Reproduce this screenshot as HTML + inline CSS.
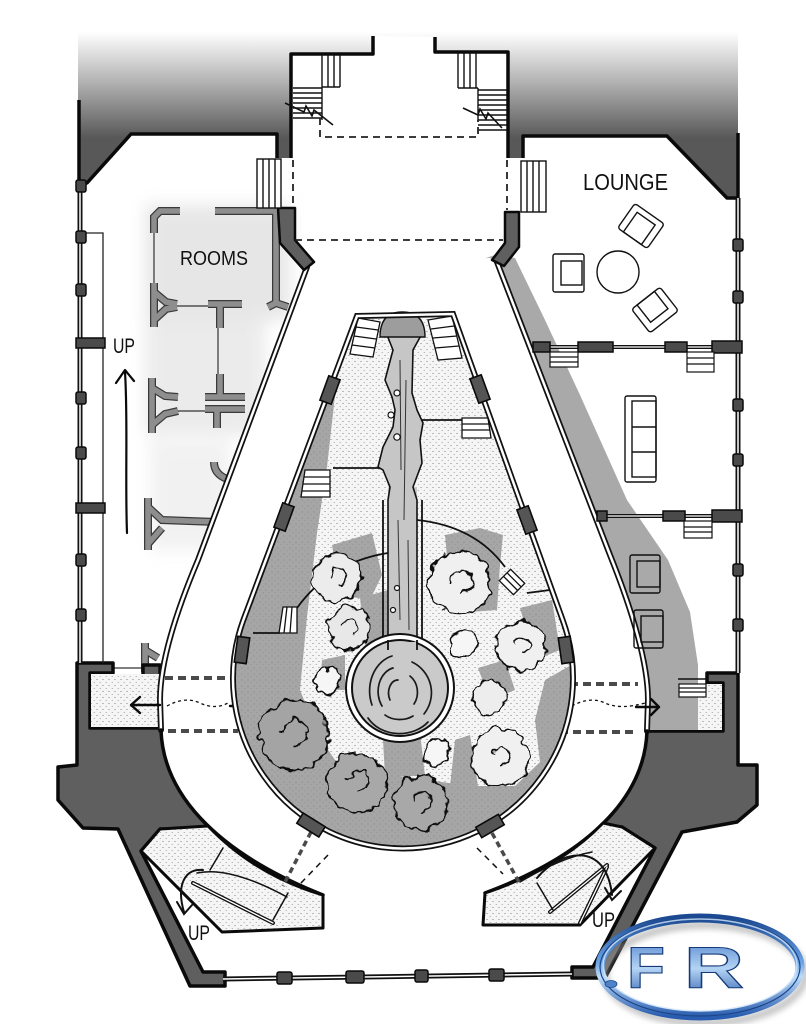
<!DOCTYPE html>
<html><head><meta charset="utf-8"><style>
html,body{margin:0;padding:0;background:#fff;}
svg{display:block;}
text{font-family:"Liberation Sans",sans-serif;}
</style></head><body>
<svg width="806" height="1024" viewBox="0 0 806 1024" xmlns="http://www.w3.org/2000/svg">
<defs>
 <linearGradient id="sky" gradientUnits="userSpaceOnUse" x1="0" y1="32" x2="0" y2="138">
  <stop offset="0" stop-color="#ffffff"/>
  <stop offset="0.45" stop-color="#b6b6b6"/>
  <stop offset="1" stop-color="#585858"/>
 </linearGradient>
 <pattern id="st" width="6" height="6" patternUnits="userSpaceOnUse">
  <rect width="6" height="6" fill="#f5f5f5"/>
  <circle cx="1" cy="1.5" r="0.55" fill="#6a6a6a"/>
  <circle cx="4.2" cy="4.5" r="0.5" fill="#8a8a8a"/>
 </pattern>
 <pattern id="gst" width="6" height="6" patternUnits="userSpaceOnUse">
  <rect width="6" height="6" fill="#a6a6a6"/>
  <circle cx="2" cy="2" r="0.55" fill="#7a7a7a"/>
  <circle cx="5" cy="4.6" r="0.5" fill="#8a8a8a"/>
 </pattern>
 <filter id="rough" x="-20%" y="-20%" width="140%" height="140%">
  <feTurbulence type="fractalNoise" baseFrequency="0.1" numOctaves="2" seed="7" result="n"/>
  <feDisplacementMap in="SourceGraphic" in2="n" scale="11" xChannelSelector="R" yChannelSelector="G"/>
 </filter>
 <filter id="blur" x="-30%" y="-30%" width="160%" height="160%"><feGaussianBlur stdDeviation="8"/></filter>
 <filter id="sblur" x="-30%" y="-30%" width="160%" height="160%"><feGaussianBlur stdDeviation="3"/></filter>
 <clipPath id="gclip"><path d="M357,316 L453,314 L563,621 A170,170 0 1 1 243,621 Z"/></clipPath>
 <linearGradient id="blu" x1="0" y1="0" x2="0" y2="1">
  <stop offset="0" stop-color="#1c4a92"/><stop offset="0.45" stop-color="#6aa3e6"/>
  <stop offset="0.6" stop-color="#bcdcfa"/><stop offset="1" stop-color="#2a5db0"/>
 </linearGradient>
 <linearGradient id="bluT" x1="0" y1="0" x2="0" y2="1">
  <stop offset="0" stop-color="#4f82cc"/><stop offset="0.5" stop-color="#b4d4f4"/><stop offset="1" stop-color="#2f5fae"/>
 </linearGradient>
 <path id="rw" d="M180,211 L160,211 L154,217 L154,233 M215,211 L276,211 L276,303 L268,307 M276,303 L288,307 M154,283 L154,327 M154,292 L166,302 L177,304 M154,320 L166,309 L177,307 M208,304 L242,304 M220,304 L220,328 M220,374 L220,398 M205,397 L245,397 M205,409 L245,409 M217,409 L217,428 M152,378 L152,433 M152,388 L165,396 L178,397 M152,425 L165,414 L178,411 M214,462 Q214,474 227,479 M148,498 L148,550 M148,507 L162,520 L217,522 M148,544 L162,528 M145,643 L145,668 L160,668 M145,650 L158,658"/>
</defs>

<rect width="806" height="1024" fill="#fff"/>
<rect x="78" y="0" width="660" height="205" fill="url(#sky)"/>

<polygon fill="#fff" points="373,36 373,54 291,54 291,158 277,158 277,134 131,134 87,183 79,183 79,765 58,767 58,800 83,828 118,829 190,984 598,976 682,834 737,822 757,805 757,765 738,765 738,198 727,198 667,136 523,136 523,158 508,158 508,52 435,52 435,37"/>

<g filter="url(#blur)" opacity="0.5">
 <rect x="145" y="205" width="145" height="115" fill="#cfcfcf"/>
 <rect x="145" y="320" width="120" height="115" fill="#d8d8d8"/>
 <rect x="150" y="440" width="80" height="110" fill="#e4e4e4"/>
</g>
<use href="#rw" fill="none" stroke="#3a3a3a" stroke-width="8"/>
<use href="#rw" fill="none" stroke="#8e8e8e" stroke-width="5.5"/>
<path d="M154,233 L154,283 M177,306 L208,306 M218,328 L218,374 M178,411 L205,411 M113,668 L143,668" stroke="#333" stroke-width="1.2" fill="none"/>

<g fill="#5f5f5f" stroke="#0a0a0a" stroke-width="3.5" stroke-linejoin="round">
 <path d="M77,663 L113,663 L113,673 L90,673 L90,728 L190,728 L240,830 L160,829 L141,851 L203,972 L225,972 L225,986 L190,986 L118,829 L83,828 L58,800 L58,767 L77,765 Z"/>
 <path d="M610,731 L723,731 L723,683 L707,683 L707,673 L738,673 L738,765 L757,765 L757,805 L737,822 L682,832 L605,978 L572,978 L572,967 L593,967 L655,848 L622,827 L570,827 Z"/>
 <rect x="143" y="665" width="17" height="11"/>
 <rect x="638" y="675" width="40" height="8"/>
</g>
<rect x="91" y="674" width="80" height="53" fill="url(#st)"/>
<rect x="640" y="684" width="82" height="46" fill="url(#st)"/>

<path d="M495,255 L515,258 L545,320 L580,395 L627,500 L668,560 L690,612 L698,665 L698,730 L600,730 L480,260 Z" fill="#a9a9a9"/>
<g stroke="#111" stroke-width="1.2" fill="#fff">
 <rect x="679" y="684" width="27" height="13"/>
 <path d="M679,688 L706,688 M679,692 L706,692" fill="none"/>
</g>
<path d="M678,679 L707,679" stroke="#111" stroke-width="1.5"/>

<path d="M307,267 L198,560 Q160,650 160,700 L161,730 C163,790 210,850 323,895 L485,893 C600,850 645,790 647,731 L648,700 Q648,650 610,555 L497,262 L490,258 L312,262 Z" fill="#fff"/>

<g fill="none" stroke-linecap="round">
 <path d="M307,267 L198,560 Q160,650 160,700 L161,730" stroke="#111" stroke-width="6"/>
 <path d="M307,267 L198,560 Q160,650 160,700 L161,730" stroke="#fff" stroke-width="2.5"/>
 <path d="M497,262 L610,555 Q648,650 648,700 L647,731" stroke="#111" stroke-width="6"/>
 <path d="M497,262 L610,555 Q648,650 648,700 L647,731" stroke="#fff" stroke-width="2.5"/>
 <path d="M161,730 C163,790 210,850 323,895" stroke="#0a0a0a" stroke-width="3.5"/>
 <path d="M647,731 C645,790 600,850 485,893" stroke="#0a0a0a" stroke-width="3.5"/>
</g>

<g fill="#5f5f5f" stroke="#0a0a0a" stroke-width="2.5" stroke-linejoin="round">
 <polygon points="278,208 295,208 295,240 314,262 304,270 280,243"/>
 <polygon points="505,212 519,212 519,247 504,266 492,260 505,243"/>
</g>

<g fill="none" stroke="#0a0a0a" stroke-width="3.5" stroke-linejoin="round">
 <path d="M373,36 L373,54 L291,54 L291,158"/>
 <path d="M277,158 L277,134 L131,134 L87,183 L79,183"/>
 <path d="M79,100 L79,183"/>
 <path d="M435,37 L435,52 L508,52 L508,158"/>
 <path d="M523,158 L523,136 L667,136 L727,198 L738,198"/>
 <path d="M738,133 L738,198"/>
</g>

<g fill="none" stroke="#111" stroke-width="1.4">
 <path d="M322,54 L322,87 M328,54 L328,87 M334,54 L334,87 M340,54 L340,87 M322,87 L340,87"/>
 <path d="M293,88 L322,88 M293,93 L322,93 M293,98 L322,98 M293,103 L322,103 M293,108 L322,108 M293,113 L322,113 M293,118 L322,118 M322,87 L322,120"/>
 <path d="M285,103 L304,112 L306,106 L312,116 L314,110 L333,125" stroke-width="1.6"/>
 <path d="M458,53 L458,88 M464,53 L464,88 M470,53 L470,88 M476,53 L476,88 M458,88 L478,88"/>
 <path d="M478,90 L507,90 M478,95 L507,95 M478,100 L507,100 M478,105 L507,105 M478,110 L507,110 M478,115 L507,115 M478,120 L507,120 M478,125 L507,125 M478,130 L507,130 M478,88 L478,120"/>
 <path d="M463,108 L478,115 L480,109 L486,119 L488,113 L502,128" stroke-width="1.6"/>
</g>
<g fill="#fff" stroke="#111" stroke-width="1.4">
 <rect x="257" y="159" width="24" height="49"/>
 <path d="M263,159 L263,208 M269,159 L269,208 M275,159 L275,208" fill="none"/>
 <rect x="521" y="161" width="25" height="51"/>
 <path d="M527,161 L527,212 M533,161 L533,212 M539,161 L539,212" fill="none"/>
</g>
<g fill="none" stroke="#222" stroke-width="1.8" stroke-dasharray="7 5">
 <path d="M320,118 L320,137 L478,137 L478,120"/>
 <path d="M293,160 L293,207"/>
 <path d="M507,160 L507,210"/>
 <path d="M295,240 L503,240"/>
</g>

<path d="M80,183 L80,663" stroke="#111" stroke-width="5" fill="none"/>
<path d="M80,183 L80,663" stroke="#fff" stroke-width="1.5" fill="none"/>
<path d="M82,233 L103,233 L103,663" stroke="#222" stroke-width="1.3" fill="none"/>
<g fill="#4a4a4a" stroke="#0a0a0a" stroke-width="1.5">
 <rect x="76" y="180" width="10" height="12" rx="2"/>
 <rect x="76" y="231" width="10" height="12" rx="2"/>
 <rect x="76" y="284" width="10" height="12" rx="2"/>
 <rect x="76" y="338" width="29" height="10"/>
 <rect x="76" y="392" width="10" height="12" rx="2"/>
 <rect x="76" y="447" width="10" height="12" rx="2"/>
 <rect x="76" y="503" width="29" height="10"/>
 <rect x="76" y="554" width="10" height="12" rx="2"/>
 <rect x="76" y="609" width="10" height="12" rx="2"/>
</g>

<path d="M738,198 L738,673" stroke="#111" stroke-width="5" fill="none"/>
<path d="M738,198 L738,673" stroke="#fff" stroke-width="1.5" fill="none"/>
<path d="M533,347 L738,347 M597,516 L738,516" stroke="#111" stroke-width="4" fill="none"/>
<path d="M533,347 L738,347 M597,516 L738,516" stroke="#fff" stroke-width="1.2" fill="none"/>
<g fill="#4a4a4a" stroke="#0a0a0a" stroke-width="1.5">
 <rect x="733" y="239" width="10" height="12" rx="2"/>
 <rect x="733" y="291" width="10" height="12" rx="2"/>
 <rect x="733" y="399" width="10" height="12" rx="2"/>
 <rect x="733" y="454" width="10" height="12" rx="2"/>
 <rect x="733" y="564" width="10" height="12" rx="2"/>
 <rect x="733" y="619" width="10" height="12" rx="2"/>
 <rect x="533" y="342" width="17" height="10"/>
 <rect x="578" y="342" width="35" height="10"/>
 <rect x="665" y="342" width="22" height="10"/>
 <rect x="712" y="341" width="30" height="12"/>
 <rect x="597" y="511" width="10" height="10"/>
 <rect x="663" y="511" width="22" height="10"/>
 <rect x="712" y="510" width="30" height="12"/>
</g>
<g fill="#fff" stroke="#111" stroke-width="1.2">
 <rect x="550" y="352" width="28" height="15"/>
 <path d="M550,357 L578,357 M550,362 L578,362" fill="none"/>
 <rect x="687" y="352" width="27" height="20"/>
 <path d="M687,358 L714,358 M687,364 L714,364" fill="none"/>
 <rect x="684" y="521" width="28" height="17"/>
 <path d="M684,527 L712,527 M684,532 L712,532" fill="none"/>
</g>

<g fill="none" stroke="#111" stroke-width="1.4">
 <g transform="translate(641,226) rotate(35)"><rect x="-18" y="-15" width="36" height="30" rx="3"/><rect x="-11" y="-9" width="22" height="24"/></g>
 <rect x="553" y="254" width="31" height="38" rx="2"/><rect x="561" y="261" width="21" height="24"/>
 <circle cx="618" cy="272" r="21"/>
 <g transform="translate(655,310) rotate(-38)"><rect x="-18" y="-15" width="36" height="30" rx="3"/><rect x="-11" y="-15" width="22" height="22"/></g>
 <rect x="625" y="396" width="31" height="86" rx="2"/>
 <rect x="632" y="401" width="24" height="76"/>
 <path d="M632,427 L656,427 M632,452 L656,452"/>
 <rect x="630" y="555" width="30" height="38" rx="2"/><rect x="637" y="561" width="23" height="26"/>
 <rect x="634" y="610" width="29" height="38" rx="2"/><rect x="641" y="616" width="22" height="26"/>
</g>

<g fill="none" stroke="#4a4a4a" stroke-width="4" stroke-dasharray="8 5">
 <path d="M165,678 L238,678 M168,731 L238,731"/>
 <path d="M570,684 L638,684 M560,732 L635,732"/>
</g>
<g fill="none" stroke="#111" stroke-width="1.3" stroke-dasharray="3 3">
 <path d="M167,706 Q185,696 200,703 T228,703"/>
 <path d="M572,706 Q590,696 605,703 T645,703"/>
</g>
<g fill="none" stroke="#0a0a0a" stroke-width="2.4" stroke-linecap="round" stroke-linejoin="round">
 <path d="M131,705 L160,705 M140,697 L131,705 L140,713"/>
 <path d="M230,706 L255,706 M247,698 L256,706 L247,714"/>
 <path d="M534,707 L560,707 M543,699 L534,707 L543,715"/>
 <path d="M636,707 L659,707 M651,699 L659,707 L651,715"/>
</g>

<g fill="url(#st)" stroke="#0a0a0a" stroke-width="3" stroke-linejoin="round">
 <path d="M323,895 Q255,875 208,826 L160,829 L141,851 L222,932 L323,928 Z"/>
 <path d="M485,893 Q560,868 603,823 L622,827 L655,848 L580,925 L483,925 Z"/>
</g>
<g fill="none" stroke="#111" stroke-width="1.5" stroke-linecap="round">
 <path d="M193,883 L273,923" stroke-width="4"/>
 <path d="M193,883 L273,923" stroke="#fff" stroke-width="1.3"/>
 <path d="M197,873 Q230,866 287,897 M210,870 L223,848 M273,920 L288,893"/>
 <path d="M203,870 C185,868 176,885 184,912 M177,902 L184,914 L192,905" stroke-width="2"/>
 <path d="M550,912 L607,865 M580,923 L607,867" stroke-width="4"/>
 <path d="M550,912 L607,865 M580,923 L607,867" stroke="#fff" stroke-width="1.3"/>
 <path d="M537,883 L553,910 M520,882 Q560,858 592,852"/>
 <path d="M537,878 C560,850 606,840 612,895 M605,888 L612,900 L621,891" stroke-width="2"/>
</g>
<g fill="none" stroke="#4a4a4a" stroke-width="3.5" stroke-dasharray="6 4">
 <path d="M311,832 L283,886"/>
 <path d="M492,833 L520,884"/>
</g>
<g fill="none" stroke="#111" stroke-width="1.5" stroke-dasharray="6 5">
 <path d="M328,855 L300,884"/>
 <path d="M477,848 L503,874"/>
</g>

<path d="M223,979 L572,974" stroke="#111" stroke-width="5" fill="none"/>
<path d="M223,979 L572,974" stroke="#fff" stroke-width="1.5" fill="none"/>
<g fill="#4a4a4a" stroke="#0a0a0a" stroke-width="1.5">
 <rect x="277" y="972" width="15" height="12" rx="2"/>
 <rect x="346" y="971" width="18" height="12" rx="2"/>
 <rect x="415" y="970" width="13" height="12" rx="2"/>
 <rect x="489" y="969" width="15" height="12" rx="2"/>
</g>

<path d="M357,316 L453,314 L563,621 A170,170 0 1 1 243,621 Z" fill="url(#st)"/>
<g clip-path="url(#gclip)" fill="url(#gst)">
 <path d="M339,360 L327,467 L317,533 L307,617 L300,690 L318,735 L335,760 L400,776 L470,786 L515,786 L540,762 L535,720 L545,680 L580,660 L600,900 L200,900 L200,360 Z"/>
 <path d="M332,545 L372,533 L382,575 L370,600 L340,595 Z"/>
 <path d="M360,598 L388,590 L392,640 L365,645 Z"/>
 <path d="M445,535 L480,528 L503,535 L500,565 L497,610 L470,612 L450,590 Z"/>
 <path d="M520,608 L552,600 L560,650 L535,660 Z"/>
 <path d="M478,668 L505,660 L515,690 L490,700 Z"/>
 <path d="M383,740 L420,732 L425,776 L385,776 Z"/>
 <path d="M455,740 L470,735 L478,786 L450,786 Z"/>
 <path d="M322,660 L345,655 L345,690 L320,690 Z"/>
</g>

<g fill="none" stroke="#111" stroke-width="1.8">
 <path d="M417,420 L462,420"/>
 <path d="M333,468 L383,468 L390,487"/>
 <path d="M388,553 Q330,562 297,608"/>
 <path d="M253,633 L280,633"/>
 <path d="M417,520 Q475,526 505,567"/>
 <path d="M527,593 L550,590"/>
</g>
<g fill="#fff" stroke="#111" stroke-width="1.3">
 <polygon points="358,318 380,322 373,357 350,354"/>
 <path d="M356,327 L378,330 M354,336 L376,339 M352,345 L375,348" fill="none"/>
 <polygon points="428,320 452,316 462,358 438,360"/>
 <path d="M431,329 L454,326 M433,338 L457,336 M435,348 L459,346" fill="none"/>
 <polygon points="462,418 488,418 491,438 462,438"/>
 <path d="M462,424 L489,424 M462,430 L490,430" fill="none"/>
 <polygon points="305,470 330,470 330,497 301,497"/>
 <path d="M304,477 L330,477 M303,484 L330,484 M302,491 L330,491" fill="none"/>
 <polygon points="283,607 297,607 297,633 279,633"/>
 <path d="M287,607 L284,633 M292,607 L290,633" fill="none"/>
 <g transform="translate(512,582) rotate(45)"><rect x="-10" y="-8" width="20" height="16"/><path d="M-10,-3 L10,-3 M-10,2 L10,2" fill="none"/></g>
</g>

<path d="M388,487 L417,487 L417,640 L388,640 Z" fill="#c8c8c8"/>
<path d="M385,330 L393,350 L385,380 L392,397 L395,410 L393,427 L383,447 L378,467 L383,470 L390,487 L388,500 L388,640 L417,640 L417,500 L413,487 L422,463 L420,440 L423,423 L417,410 L412,393 L413,350 L424,330 Z" fill="#c6c6c6" stroke="#111" stroke-width="1.6" stroke-linejoin="round"/>
<path d="M380,337 Q380,312 402,312 Q425,312 425,337 Z" fill="#9d9d9d" stroke="#111" stroke-width="1.4"/>
<path d="M400,360 L401,470 M406,380 L404,520 M398,520 L400,620 M408,540 L409,630" stroke="#333" stroke-width="1" fill="none"/>
<g fill="#fff" stroke="#111" stroke-width="1.2">
 <circle cx="397" cy="393" r="3"/><circle cx="391" cy="415" r="3"/><circle cx="397" cy="437" r="3.2"/><circle cx="393" cy="610" r="2.5"/><circle cx="397" cy="588" r="2.5"/>
</g>
<path d="M383,500 L383,640 M422,500 L422,640" stroke="#111" stroke-width="1.8" fill="none"/>

<circle cx="400" cy="688" r="54" fill="#fff" stroke="#111" stroke-width="2"/>
<circle cx="400" cy="688" r="48" fill="#cacaca" stroke="#111" stroke-width="2"/>
<path d="M389,642 L416,642 L416,652 L389,652 Z" fill="#cacaca"/>
<path d="M388,640 L388,650 M417,640 L417,650" stroke="#111" stroke-width="1.8"/>
<g fill="none" stroke="#1a1a1a" stroke-width="1.7" stroke-linecap="round">
 <path d="M372,705 A30,36 0 0 1 392,656"/>
 <path d="M382,706 A19,24 0 0 1 393,668"/>
 <path d="M390,700 A9,13 0 0 1 398,680"/>
 <path d="M412,662 A34,34 0 0 1 424,714"/>
 <path d="M410,676 A18,20 0 0 1 414,704"/>
 <path d="M368,718 A36,30 0 0 0 428,722"/>
 <path d="M385,715 A20,14 0 0 0 413,716"/>
</g>

<g filter="url(#rough)" stroke="#111" stroke-width="1.7">
 <circle cx="337" cy="578" r="24" fill="#ececec"/>
 <circle cx="349" cy="628" r="21" fill="#e8e8e8"/>
 <circle cx="459" cy="583" r="31" fill="#f0f0f0"/>
 <circle cx="521" cy="646" r="25" fill="#f0f0f0"/>
 <circle cx="489" cy="697" r="17" fill="#ededed"/>
 <circle cx="500" cy="757" r="29" fill="#f0f0f0"/>
 <circle cx="294" cy="735" r="35" fill="#a4a4a4"/>
 <circle cx="357" cy="783" r="30" fill="#a8a8a8"/>
 <circle cx="421" cy="803" r="27" fill="#a8a8a8"/>
 <circle cx="327" cy="681" r="13" fill="#f6f6f6"/>
 <circle cx="463" cy="644" r="13" fill="#f6f6f6"/>
 <circle cx="437" cy="752" r="13" fill="#f6f6f6"/>
 <g fill="none">
  <path d="M330,576 A8,8 0 1 1 338,584"/>
  <path d="M343,626 A7,7 0 1 1 350,633"/>
  <path d="M450,582 A11,11 0 1 1 461,593"/>
  <path d="M514,645 A8,8 0 1 1 522,653"/>
  <path d="M492,756 A9,9 0 1 1 501,765"/>
  <path d="M282,733 A13,13 0 1 1 295,746"/>
  <path d="M348,781 A10,10 0 1 1 358,791"/>
  <path d="M413,801 A9,9 0 1 1 422,810"/>
 </g>
</g>

<path d="M357,316 L453,314 L563,621 A170,170 0 1 1 243,621 Z" fill="none" stroke="#111" stroke-width="6"/>
<path d="M357,316 L453,314 L563,621 A170,170 0 1 1 243,621 Z" fill="none" stroke="#fff" stroke-width="2.5"/>
<g fill="#555" stroke="#0a0a0a" stroke-width="1.6">
 <rect x="-6" y="-13" width="12" height="26" transform="translate(330,390) rotate(20)"/>
 <rect x="-6" y="-13" width="12" height="26" transform="translate(284,517) rotate(20)"/>
 <rect x="-6" y="-13" width="12" height="26" transform="translate(242,650) rotate(8)"/>
 <rect x="-6" y="-13" width="12" height="26" transform="translate(480,389) rotate(-20)"/>
 <rect x="-6" y="-13" width="12" height="26" transform="translate(527,520) rotate(-20)"/>
 <rect x="-6" y="-13" width="12" height="26" transform="translate(566,650) rotate(-8)"/>
 <rect x="-13" y="-6" width="26" height="12" transform="translate(311,825) rotate(32)"/>
 <rect x="-13" y="-6" width="26" height="12" transform="translate(490,826) rotate(-30)"/>
</g>

<g fill="#111">
 <text x="180" y="265" font-size="20" textLength="68" lengthAdjust="spacingAndGlyphs">ROOMS</text>
 <text x="583" y="190" font-size="23" textLength="85" lengthAdjust="spacingAndGlyphs">LOUNGE</text>
 <text x="113" y="353" font-size="21" textLength="22" lengthAdjust="spacingAndGlyphs">UP</text>
 <text x="188" y="940" font-size="21" textLength="22" lengthAdjust="spacingAndGlyphs">UP</text>
 <text x="592" y="927" font-size="21" textLength="23" lengthAdjust="spacingAndGlyphs">UP</text>
</g>
<path d="M127,533 C125,480 128,420 125,372 M116,383 L125,370 L134,381" fill="none" stroke="#0a0a0a" stroke-width="2.2" stroke-linecap="round" stroke-linejoin="round"/>

<ellipse cx="705" cy="974" rx="100" ry="49" fill="none" stroke="#9a9a9a" stroke-width="8" opacity="0.55" filter="url(#sblur)"/>
<ellipse cx="700" cy="967" rx="100" ry="49" fill="none" stroke="url(#blu)" stroke-width="9"/>
<ellipse cx="700" cy="967" rx="100" ry="49" fill="none" stroke="#1d4688" stroke-width="1.2"/>
<ellipse cx="700" cy="965" rx="97" ry="46" fill="none" stroke="#d2e7fb" stroke-width="1.5" opacity="0.8"/>
<ellipse cx="611" cy="984" rx="6" ry="3.5" fill="#4f82c8" stroke="#1d4688" stroke-width="0.8"/>
<text x="627" y="988" font-family="Liberation Serif" font-size="58" font-weight="bold" fill="url(#bluT)" stroke="#163a78" stroke-width="1.1" textLength="38" lengthAdjust="spacingAndGlyphs">F</text>
<text x="684" y="988" font-family="Liberation Serif" font-size="58" font-weight="bold" fill="url(#bluT)" stroke="#163a78" stroke-width="1.1" textLength="60" lengthAdjust="spacingAndGlyphs">R</text>
</svg>
</body></html>
